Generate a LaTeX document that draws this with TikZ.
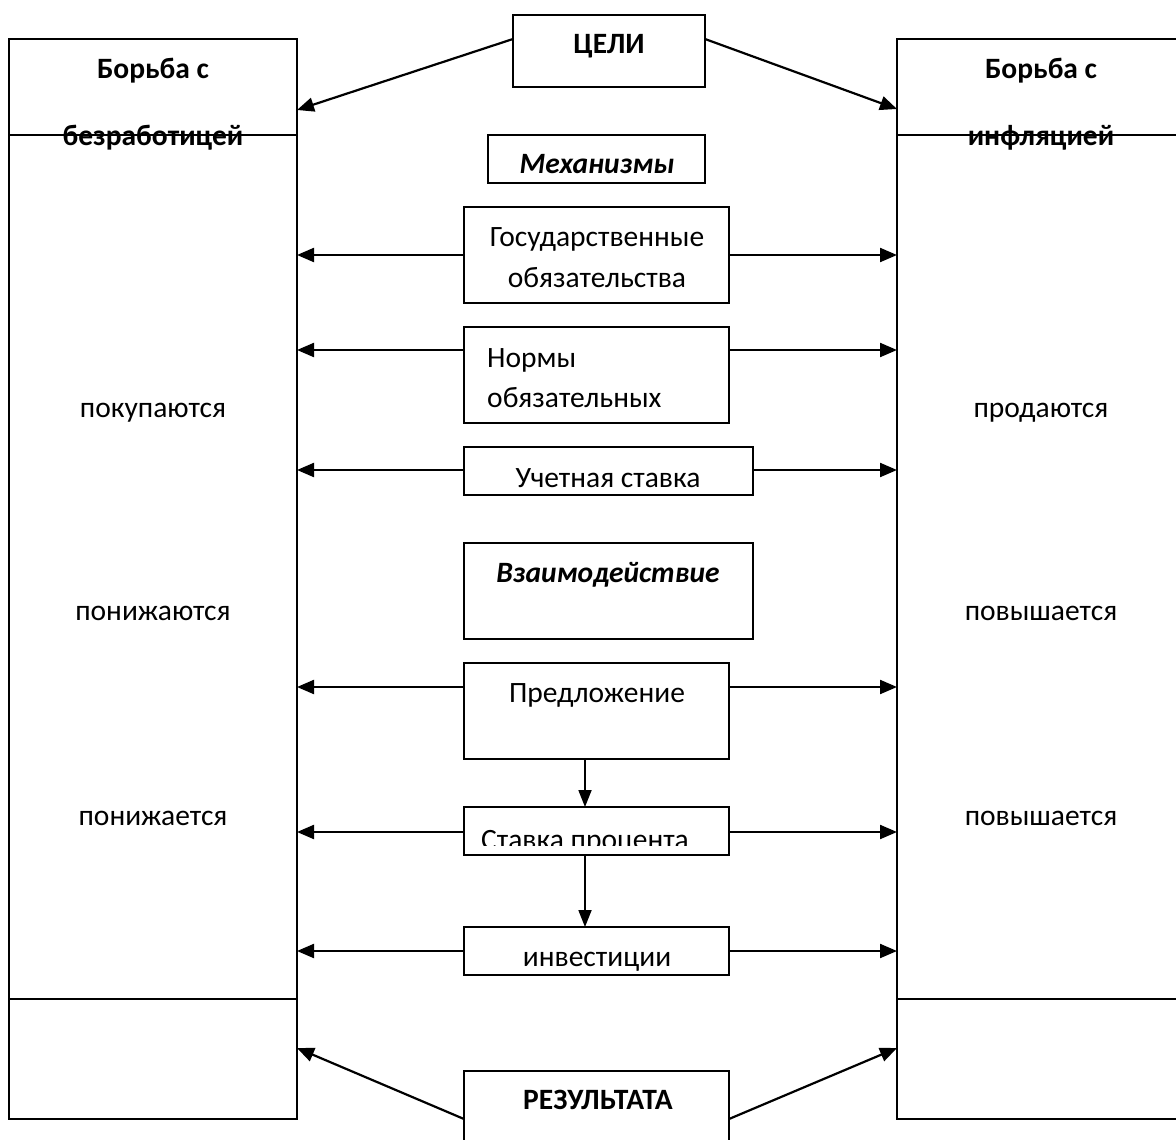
\documentclass[tikz,border=0pt]{standalone}
\usepackage{fontspec}
\setmainfont{Carlito}
\usetikzlibrary{arrows.meta}
\tikzset{
  boxst/.style={draw, line width=1.8pt, rectangle, inner sep=0pt, outer sep=0pt},
  colst/.style={draw, line width=1.8pt, rectangle, inner sep=0pt, outer sep=0pt, minimum width=288pt, minimum height=1080pt},
  arr/.style={line width=2.2pt, -{Triangle[length=17pt,width=14pt]}},
  varr/.style={line width=1.8pt, -{Triangle[length=17pt,width=13pt]}},
  txt/.style={anchor=base, inner sep=0pt, font=\fontsize{29.5}{41}\selectfont},
  btxt/.style={txt, font=\fontsize{29.5}{41}\selectfont\bfseries},
  itxt/.style={txt, font=\fontsize{29.5}{41}\selectfont\bfseries\itshape},
}
\begin{document}
\begin{tikzpicture}[x=1pt,y=-1pt]
\clip (0,0) rectangle (1176,1140);
% columns
\node[colst] (L) at (153,579) {};
\node[colst] (R) at (1041,579) {};
\draw[line width=1.8pt] (L.west |- 0,135) -- (L.east |- 0,135);
\draw[line width=1.8pt] (L.west |- 0,999) -- (L.east |- 0,999);
\draw[line width=1.8pt] (R.west |- 0,135) -- (R.east |- 0,135);
\draw[line width=1.8pt] (R.west |- 0,999) -- (R.east |- 0,999);
% column texts
\node[btxt] (Lt1) at (153,78) {Борьба с};
\node[btxt] (Lt2) at (153,145) {безработицей};
\node[btxt] (Rt1) at (1041,78) {Борьба с};
\node[btxt] (Rt2) at (1041,145) {инфляцией};
\node[txt] (L1) at (153,417) {покупаются};
\node[txt] (L2) at (153,620) {понижаются};
\node[txt] (L3) at (153,825) {понижается};
\node[txt] (R1) at (1041,417) {продаются};
\node[txt] (R2) at (1041,620) {повышается};
\node[txt] (R3) at (1041,825) {повышается};
% central boxes
\node[boxst, minimum width=192pt, minimum height=72pt] (celi) at (609,51) {};
\node[boxst, minimum width=217pt, minimum height=48pt] (mech) at (596.5,159) {};
\node[boxst, minimum width=265pt, minimum height=96pt] (gos) at (596.5,255) {};
\node[boxst, minimum width=265pt, minimum height=96pt] (norm) at (596.5,375) {};
\node[boxst, minimum width=289pt, minimum height=48pt] (uchet) at (608.5,471) {};
\node[boxst, minimum width=289pt, minimum height=96pt] (vzaim) at (608.5,591) {};
\node[boxst, minimum width=265pt, minimum height=96pt] (pred) at (596.5,711) {};
\node[boxst, minimum width=265pt, minimum height=48pt] (stavka) at (596.5,831) {};
\node[boxst, minimum width=265pt, minimum height=48pt] (invest) at (596.5,951) {};
\node[boxst, minimum width=265pt, minimum height=96pt] (rez) at (596.5,1119) {};
% box texts
\node[btxt] (celiT) at (609,54) {ЦЕЛИ};
\node[itxt] (mechT) at (597,173) {Механизмы};
\node[txt] (gosT1) at (597,246) {Государственные};
\node[txt] (gosT2) at (597,287) {обязательства};
\node[txt, anchor=base west] (normT1) at (487,367) {Нормы};
\node[txt, anchor=base west] (normT2) at (487,407) {обязательных};
\node[txt] (uchetT) at (608,487) {Учетная ставка};
\node[itxt] (vzaimT) at (608,582) {Взаимодействие};
\node[txt] (predT) at (597,702) {Предложение};
\begin{scope}
\clip (464,807) rectangle (729,845);
\node[txt] (stavkaT) at (585,849) {Ставка процента};
\end{scope}
\node[txt] (investT) at (597,966) {инвестиции};
\node[btxt] (rezT) at (598,1109) {РЕЗУЛЬТАТА};
% goal arrows
\draw[arr] ([yshift=12pt]celi.west) -- ([yshift=469pt]L.east);
\draw[arr] ([yshift=12pt]celi.east) -- ([yshift=470pt]R.west);
% result arrows
\draw[arr] (rez.west) -- ([yshift=-469pt]L.east);
\draw[arr] (rez.east) -- ([yshift=-469pt]R.west);
% horizontal arrows
\foreach \n/\s in {gos/0pt, norm/25pt, uchet/1pt, pred/24pt, stavka/-1pt, invest/0pt}{
  \draw[arr] ([yshift=\s]\n.west) -- ([yshift=\s]\n.west -| L.east);
  \draw[arr] ([yshift=\s]\n.east) -- ([yshift=\s]\n.east -| R.west);
}
% vertical arrows
\draw[varr] ([xshift=-11.5pt]pred.south) -- ([xshift=-11.5pt]stavka.north);
\draw[varr] ([xshift=-11.5pt]stavka.south) -- ([xshift=-11.5pt]invest.north);
\end{tikzpicture}
\end{document}
